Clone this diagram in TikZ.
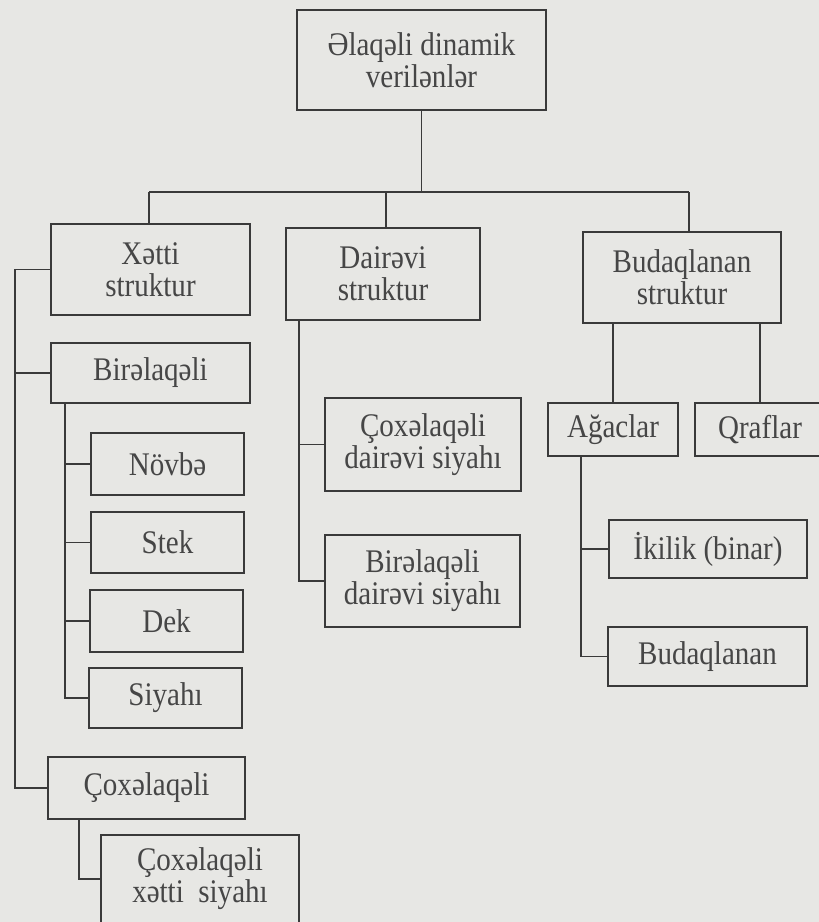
\documentclass[tikz,border=0pt]{standalone}
\usepackage{fontspec}
\setmainfont[FakeStretch=0.88]{Liberation Serif}
\definecolor{bgc}{RGB}{231,231,228}
\definecolor{linec}{RGB}{58,58,58}
\definecolor{textc}{RGB}{70,70,70}
\begin{document}
\begin{tikzpicture}[x=1pt,y=-1pt,
  box/.style={draw=linec, line width=1.7pt, text=textc, align=center, inner sep=0pt,
    font=\fontsize{33}{32}\selectfont},
  link/.style={draw=linec, line width=1.7pt}]
\fill[bgc] (0,0) rectangle (819,922);
\useasboundingbox (0,0) rectangle (819,922);

% boxes
\node[box, minimum width=249pt, minimum height=100pt] (top) at (421.5,60) {Əlaqəli dinamik\\verilənlər};
\node[box, minimum width=199pt, minimum height=91pt] (xs) at (150.5,269.5) {Xətti\\struktur};
\node[box, minimum width=194pt, minimum height=92pt] (ds) at (383,274) {Dairəvi\\struktur};
\node[box, minimum width=198pt, minimum height=91pt] (bs) at (682,277.5) {Budaqlanan\\struktur};

\node[box, minimum width=199pt, minimum height=60pt] (bir) at (150.5,373) {Birəlaqəli};
\node[box, minimum width=153pt, minimum height=62pt] (nov) at (167.5,464) {Növbə};
\node[box, minimum width=153pt, minimum height=61pt] (stek) at (167.5,542.5) {Stek};
\node[box, minimum width=153pt, minimum height=62pt] (dek) at (166.5,621) {Dek};
\node[box, minimum width=153pt, minimum height=60pt] (siy) at (165.5,698) {Siyahı};
\node[box, minimum width=197pt, minimum height=62pt] (cox) at (146.5,788) {Çoxəlaqəli};
\node[box, minimum width=198pt, minimum height=88pt] (cxs) at (200,879) {Çoxəlaqəli\\xətti\ \ siyahı};

\node[box, minimum width=196pt, minimum height=93pt] (cds) at (423,444.5) {Çoxəlaqəli\\dairəvi siyahı};
\node[box, minimum width=195pt, minimum height=92pt] (bds) at (422.5,581) {Birəlaqəli\\dairəvi siyahı};

\node[box, minimum width=130pt, minimum height=53pt] (ag) at (613,429.5) {Ağaclar};
\node[box, minimum width=130pt, minimum height=53pt] (qr) at (760,429.5) {Qraflar};
\node[box, minimum width=198pt, minimum height=58pt] (ik) at (708,549) {İkilik (binar)};
\node[box, minimum width=199pt, minimum height=59pt] (bud) at (707.5,656.5) {Budaqlanan};

% connector coordinates
\coordinate (bus) at (421.5,192);
\coordinate (busL) at (149,192);
\coordinate (busM) at (386,192);
\coordinate (busR) at (689,192);
\coordinate (spA) at (15,0);
\coordinate (spB) at (65,0);
\coordinate (spC) at (79,0);
\coordinate (spD) at (299,0);
\coordinate (spE) at (581,0);

% connectors
\draw[link] (top.south) -- (bus);
\draw[link] (busL) -- (busR);
\draw[link] (busL) -- (busL |- xs.north);
\draw[link] (busM) -- (busM |- ds.north);
\draw[link] (busR) -- (busR |- bs.north);

\draw[link] (xs.west) -- (xs.west -| spA) |- (cox.west);
\draw[link] (spA |- bir.west) -- (bir.west);

\draw[link] (bir.south -| spB) |- (siy.west);
\draw[link] (spB |- nov.west) -- (nov.west);
\draw[link] (spB |- stek.west) -- (stek.west);
\draw[link] (spB |- dek.west) -- (dek.west);

\draw[link] (cox.south -| spC) |- (cxs.west);

\draw[link] (ds.south -| spD) |- (bds.west);
\draw[link] (spD |- cds.west) -- (cds.west);

\draw[link] (bs.south -| ag.north) -- (ag.north);
\draw[link] (bs.south -| qr.north) -- (qr.north);
\draw[link] (ag.south -| spE) |- (bud.west);
\draw[link] (spE |- ik.west) -- (ik.west);
\end{tikzpicture}
\end{document}
